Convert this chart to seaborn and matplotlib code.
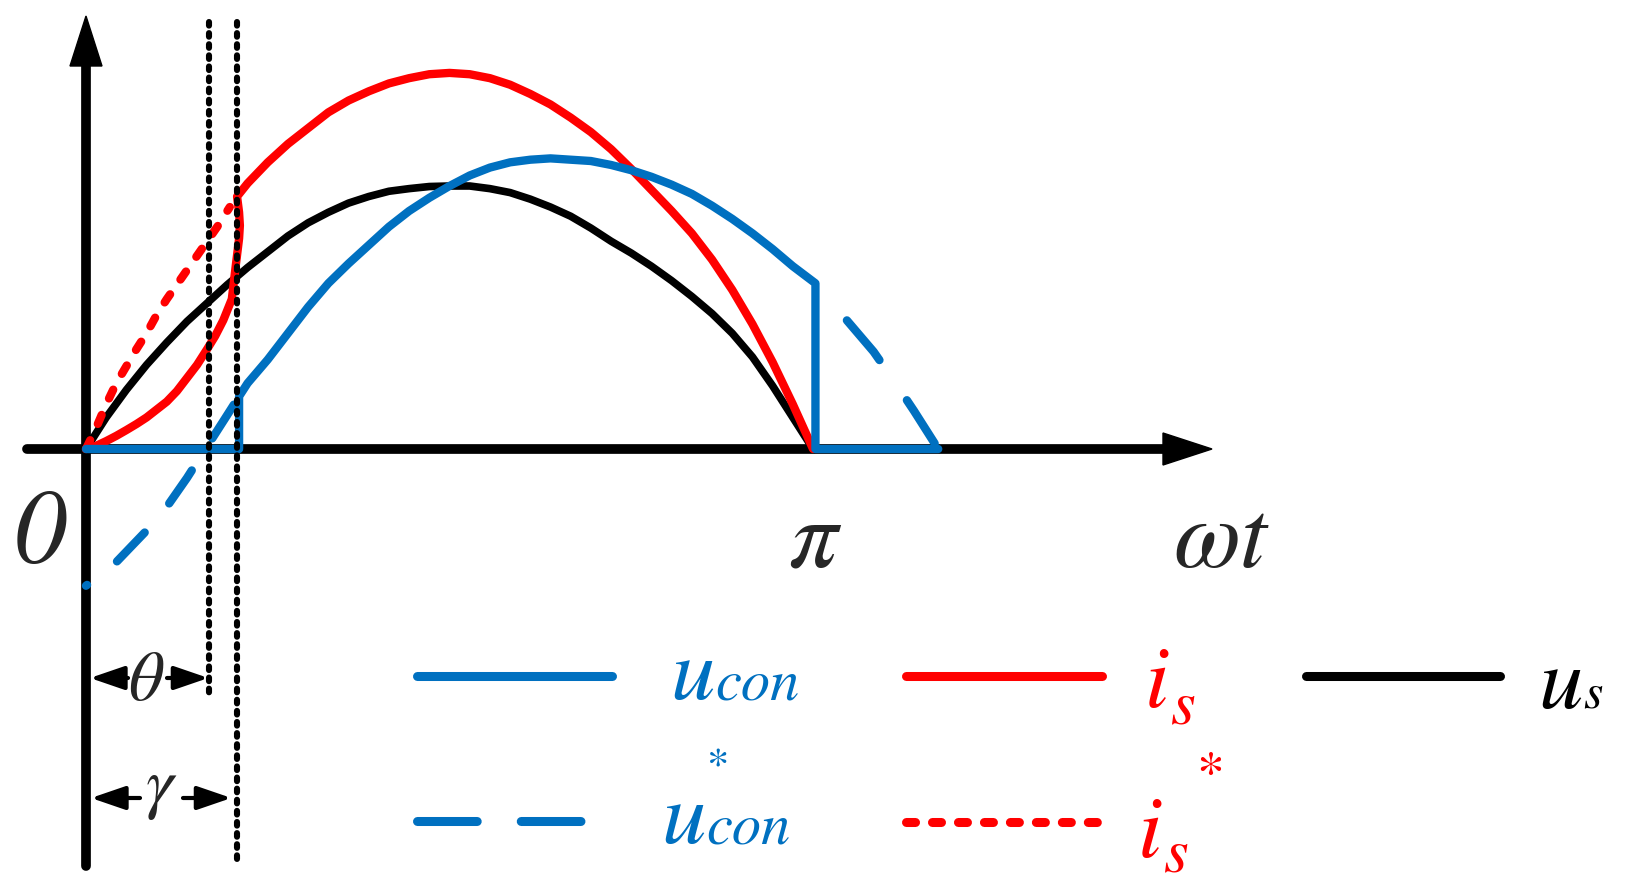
import matplotlib
matplotlib.use("Agg")
import matplotlib.pyplot as plt
from matplotlib.patches import Polygon
import seaborn as sns

# x is wt in degrees (180 = pi), y is relative to the peak of us
us_x = [0, 5, 10, 15, 20, 25, 30, 35, 40, 45, 50, 55, 60, 65, 70, 75, 80, 85, 90,
        95, 100, 105, 110, 115, 120, 125, 130, 135, 140, 145, 150, 155, 160, 165, 170, 175, 180]
us_y = [0, 0.12, 0.225, 0.32, 0.405, 0.485, 0.555, 0.625, 0.69, 0.75, 0.81, 0.86, 0.90, 0.935, 0.96,
        0.98, 0.99, 0.998, 1.0, 1.0, 0.99, 0.975, 0.95, 0.92, 0.885, 0.84, 0.79, 0.745, 0.695, 0.64,
        0.58, 0.515, 0.44, 0.35, 0.24, 0.12, 0]

is_x = [0, 2.5, 5, 7.5, 10, 12.5, 15, 17.5, 20, 22.5, 25, 27.5, 30, 32, 34, 36.1,
        37.1, 37.9, 38.1, 37.9, 37.4,
        40, 45, 50, 55, 60, 65, 70, 75, 80, 85, 90, 95, 100, 105, 110, 115, 120, 125, 130,
        135, 140, 145, 150, 155, 160, 165, 170, 175, 180]
is_y = [0, 0.012, 0.03, 0.05, 0.072, 0.095, 0.12, 0.15, 0.18, 0.22, 0.27, 0.32, 0.38, 0.43, 0.49, 0.57,
        0.70, 0.80, 0.85, 0.90, 0.96,
        1.01, 1.09, 1.16, 1.22, 1.28, 1.325, 1.36, 1.39, 1.41, 1.425, 1.43, 1.425, 1.41, 1.385, 1.35,
        1.31, 1.26, 1.205, 1.14, 1.065, 0.985, 0.905, 0.82, 0.72, 0.605, 0.475, 0.33, 0.17, 0]

is_ref_x = [0, 2.5, 5, 7.5, 10, 12.5, 15, 17.5, 20, 22.5, 25, 27.5, 30, 32.5, 35.6]
is_ref_y = [0, 0.08, 0.17, 0.25, 0.315, 0.38, 0.44, 0.51, 0.57, 0.625, 0.68, 0.735, 0.79, 0.845, 0.92]

ucon_x = [0, 37.9, 37.9, 40, 45, 50, 55, 60, 65, 70, 75, 80, 85, 90, 95, 100, 105, 110, 115, 120,
          125, 130, 135, 140, 145, 150, 155, 160, 165, 170, 175, 180.6, 180.6, 211]
ucon_y = [0, 0, 0.20, 0.25, 0.34, 0.44, 0.54, 0.63, 0.705, 0.775, 0.845, 0.905, 0.955, 1.0, 1.04,
          1.07, 1.09, 1.10, 1.105, 1.10, 1.095, 1.08, 1.06, 1.035, 1.005, 0.97, 0.925, 0.875, 0.82,
          0.76, 0.695, 0.63, 0, 0]

# reference converter voltage, only visible outside the solid part
ucon_ref_x1 = [0, 2.5, 5, 7.5, 10, 12.5, 15, 17.5, 20, 22.5, 25, 27.5, 30, 32.5, 35, 37.9]
ucon_ref_y1 = [-0.52, -0.49, -0.46, -0.43, -0.39, -0.35, -0.31, -0.265, -0.22, -0.165, -0.11, -0.05,
               0.01, 0.07, 0.13, 0.20]
ucon_ref_x2 = [180.6, 185, 190, 195, 200, 205, 211]
ucon_ref_y2 = [0.63, 0.55, 0.46, 0.37, 0.26, 0.145, 0]

theta = 30.5
gamma = 37.5

BLUE = '#0070C0'
RED = '#FF0000'
FONT = 'STIXGeneral'

sns.set_theme(style='white')
plt.rcParams['lines.scale_dashes'] = False

fig = plt.figure(figsize=(16.34, 8.95), dpi=100)
ax = fig.add_axes([0, 0, 1, 1])


def px(x, y):
    # picture pixel -> data coords (origin at pixel 86,450)
    return (x - 86) / 4.039, (450 - y) / 263


ax.set_xlim(px(0, 0)[0], px(1634, 0)[0])
ax.set_ylim(px(0, 895)[1], px(0, 0)[1])

line_kw = dict(ax=ax, sort=False, estimator=None, legend=False,
               solid_capstyle='round', dash_capstyle='round', solid_joinstyle='round')

# axes with arrow heads
x0, _ = px(27, 450)
xb, _ = px(1163, 450)
xt, _ = px(1212, 450)
_, hh = px(0, 434)
ax.plot([x0, xb], [0, 0], color='black', lw=7, solid_capstyle='round', zorder=1)
ax.add_patch(Polygon([(xb, hh), (xt, 0), (xb, -hh)], closed=True, color='black', zorder=1))
_, yb = px(0, 867)
_, yh = px(0, 67)
_, ytip = px(0, 17)
hw, _ = px(102, 0)
ax.plot([0, 0], [yb, yh], color='black', lw=7, solid_capstyle='round', zorder=1)
ax.add_patch(Polygon([(-hw, yh), (0, ytip), (hw, yh)], closed=True, color='black', zorder=1))

# curves
sns.lineplot(x=us_x, y=us_y, color='black', lw=5.5, zorder=3, **line_kw)
sns.lineplot(x=is_ref_x, y=is_ref_y, color=RED, lw=6, linestyle=(0, (7, 13)), zorder=4, **line_kw)
sns.lineplot(x=is_x, y=is_y, color=RED, lw=6, zorder=4, **line_kw)
sns.lineplot(x=ucon_ref_x1, y=ucon_ref_y1, color=BLUE, lw=6, linestyle=(27.8, (28.8, 27.4)),
             zorder=5, **line_kw)
sns.lineplot(x=ucon_ref_x2, y=ucon_ref_y2, color=BLUE, lw=6, linestyle=(37, (37, 35)),
             zorder=5, **line_kw)
sns.lineplot(x=ucon_x, y=ucon_y, color=BLUE, lw=6, zorder=6, **line_kw)

# theta / gamma markers
_, top = px(0, 23)
_, th_bot = px(0, 697)
_, ga_bot = px(0, 867)
dot = (0, (2.6, 5.4))
ax.plot([theta, theta], [top, th_bot], color='black', lw=4.4, linestyle=dot,
        dash_capstyle='round', zorder=7)
ax.plot([gamma, gamma], [top, ga_bot], color='black', lw=4.4, linestyle=dot,
        dash_capstyle='round', zorder=7)

arrow = dict(arrowstyle='-|>,head_length=1.05,head_width=0.36', color='black', lw=3,
             shrinkA=0, shrinkB=0, mutation_scale=20)
_, ya = px(0, 679)
ax.annotate('', xy=(px(90, 0)[0], ya), xytext=(px(128, 0)[0], ya), arrowprops=arrow)
ax.annotate('', xy=(theta - 0.2, ya), xytext=(px(167, 0)[0], ya), arrowprops=arrow)
_, yg = px(0, 799)
ax.annotate('', xy=(px(91, 0)[0], yg), xytext=(px(140, 0)[0], yg), arrowprops=arrow)
ax.annotate('', xy=(gamma - 1.5, yg), xytext=(px(183, 0)[0], yg), arrowprops=arrow)

txt = dict(family=FONT, style='italic', va='baseline')
ax.text(*px(145, 700), '\u03b8', fontsize=50, ha='center', **txt)
ax.text(*px(160, 806), '\u03b3', fontsize=50, ha='center', **txt)

# axis labels
ax.text(*px(40, 563), '0', fontsize=76, ha='center', **txt)
ax.text(*px(813, 567), '\u03c0', fontsize=70, ha='center', **txt)
ax.text(*px(1220, 567), '\u03c9t', fontsize=70, ha='center', **txt)


# legend
def key(x1, x2, y, color, ls='-'):
    xa, yy = px(x1, y)
    xb2, _ = px(x2, y)
    ax.plot([xa, xb2], [yy, yy], color=color, lw=6.5, linestyle=ls,
            solid_capstyle='round', dash_capstyle='round')


renderer = fig.canvas.get_renderer()


def label(x, y, big, small, color, big_size, small_size, dy=0, gap=1):
    t = ax.text(*px(x, y), big, fontsize=big_size, color=color, ha='left', **txt)
    bb = t.get_window_extent(renderer)
    ax.text(*px(bb.x1 + gap, y + dy), small, fontsize=small_size, color=color, ha='left', **txt)


key(417, 612, 677, BLUE)
key(417, 589, 822, BLUE, (0, (43, 31.7)))
key(906, 1102, 677, RED)
key(906, 1102, 823, RED, (0, (6.5, 12.2)))
key(1306, 1500, 677, 'black')

label(670, 699, 'u', 'con', BLUE, 64, 42)
label(661, 843, 'u', 'con', BLUE, 64, 42)
ax.text(*px(718, 768), '*', fontsize=32, color=BLUE, ha='center', va='center', family=FONT)

label(1145, 707, 'i', 's', RED, 64, 46, dy=16)
label(1138, 857, 'i', 's', RED, 64, 46, dy=15)
ax.text(*px(1210, 778), '*', fontsize=40, color=RED, ha='center', va='center', family=FONT)

label(1538, 708, 'u', 's', 'black', 64, 36)

ax.axis('off')

fig.savefig('out.png', dpi=100, facecolor='white')
